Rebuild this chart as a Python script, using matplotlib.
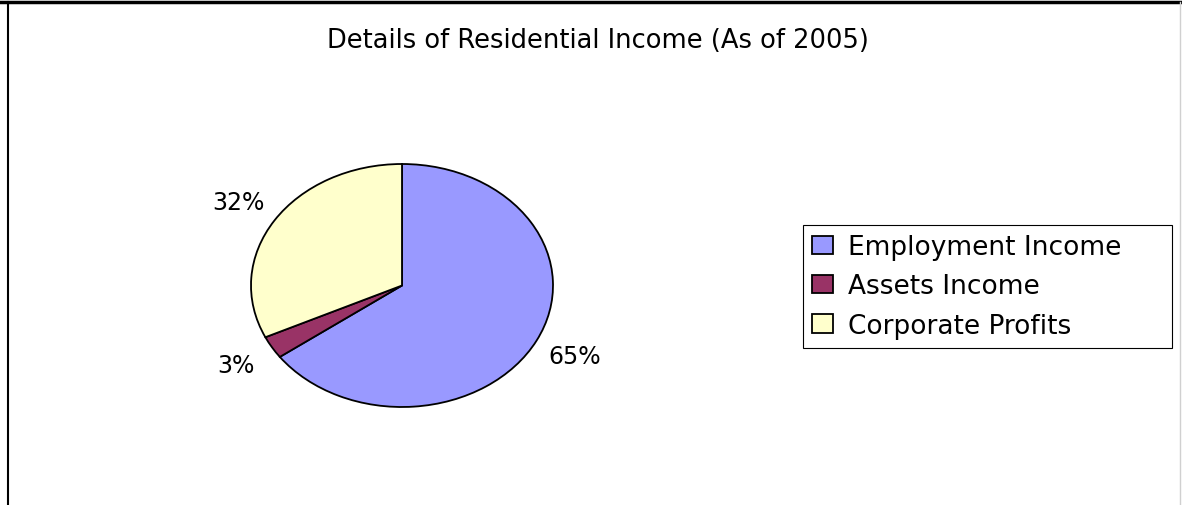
import matplotlib
matplotlib.use("Agg")
import matplotlib.pyplot as plt
from matplotlib.lines import Line2D

# data
TITLE = "Details of Residential Income (As of 2005)"
CATEGORIES = ["Employment Income", "Assets Income", "Corporate Profits"]
SHARES = [65, 3, 32]
COLORS = ["#9999FF", "#993366", "#FFFFCC"]

W, H = 1182, 506


def main():
    plt.rcParams["font.family"] = ["DejaVu Sans"]
    fig = plt.figure(figsize=(W / 100, H / 100), dpi=100)

    # pie box in pixels: x 251..553, y 165..408 (stretched -> ellipse)
    ax = fig.add_axes([251 / W, 1 - 408 / H, 302 / W, 243 / H])
    wedges, _, pct = ax.pie(
        SHARES,
        colors=COLORS,
        startangle=90,
        counterclock=False,
        autopct="%1.0f%%",
        pctdistance=1.28,
        wedgeprops=dict(edgecolor="black", linewidth=1.3),
        textprops=dict(fontsize=17),
    )
    ax.set_aspect("auto")
    ax.set_xlim(-1, 1)
    ax.set_ylim(-1, 1)
    for t in pct:
        t.set_clip_on(False)

    fig.text(0.506, 1 - 41 / H, TITLE, ha="center", va="center", fontsize=18.5)

    # legend box spans x 803..1172, y 226..347
    leg = fig.legend(
        wedges, CATEGORIES,
        loc="upper left",
        bbox_to_anchor=(803 / W, 1 - 347 / H, 369 / W, 121 / H),
        mode="expand",
        fontsize=19,
        frameon=True,
        fancybox=False,
        edgecolor="black",
        framealpha=1,
        borderpad=0.35,
        labelspacing=0.5,
        handlelength=0.8,
        handleheight=0.7,
        handletextpad=0.55,
        borderaxespad=0,
    )
    leg.get_frame().set_linewidth(0.8)

    # chart border (top, left, right edges)
    fig.add_artist(Line2D([0, 1], [1 - 3 / H, 1 - 3 / H], color="black", lw=2.5))
    fig.add_artist(Line2D([8 / W, 8 / W], [0, 1 - 3 / H], color="black", lw=1.5))
    fig.add_artist(Line2D([1180 / W, 1180 / W], [0, 1 - 3 / H], color="#d0d0d0", lw=1))

    fig.savefig("out.png", dpi=100)


if __name__ == "__main__":
    main()
